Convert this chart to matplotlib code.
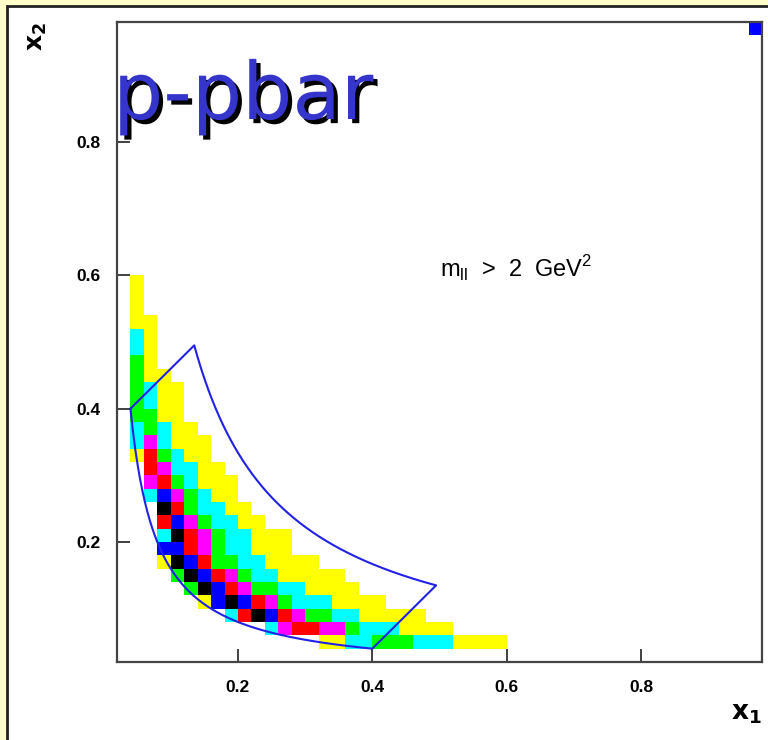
import numpy as np
import matplotlib
matplotlib.use('Agg')
import matplotlib.pyplot as plt
from matplotlib.colors import ListedColormap, BoundaryNorm
from matplotlib.patches import Rectangle
import matplotlib.patheffects as pe

# histogram cells, top row = y bin 0.58-0.60, bottom row = 0.04-0.06
# columns start at x bin 0.04-0.06 ; Y<C<G<M<R<B<K
cell_rows = [
    "Y",
    "Y",
    "Y",
    "YY",
    "CY",
    "CY",
    "GY",
    "GYY",
    "GCYY",
    "GCYY",
    "GGYY",
    "CGCYY",
    "CMCYYY",
    "YRGCYY",
    ".RMCCYY",
    ".MRGCYYY",
    ".CBMGCYY",
    "..KRGCCYY",
    "..RBMGCCYY",
    "..CKRMGCCYYY",
    "..BBRMGCCYYY",
    "..YKBRGGCCYYYY",
    "...GKBRMGCCYYYYY",
    "....GKBRMGGCCYYYY",
    ".....YBKBRMGCCCYYYY",
    ".......CRKBRMGGCCYYYYY",
    "..........CMRRMMGCCCYYYY",
    "..............YYCCGGGCCCYYYY",
]
x_first = 0.04
y_last = 0.04
bin_w = 0.02
codes = "YCGMRBK"
level_colors = ['#ffff00', '#00ffff', '#00ff00', '#ff00ff', '#ff0000', '#0000ff', '#000000']

# lone cell in the top right corner
corner_x = [0.96]
corner_y = [0.96]
corner_code = ['B']

# cut region: tau range and |x1 - x2| limit
tau_min = 0.016
tau_max = 0.0668
xf_max = 0.36

edges = np.round(np.arange(0.02, 0.98 + 1e-9, bin_w), 4)
nb = len(edges) - 1
z = np.zeros((nb, nb))
nrows = len(cell_rows)
for k, row in enumerate(cell_rows):
    yb = y_last + (nrows - 1 - k) * bin_w
    j = int(round((yb - 0.02) / bin_w))
    for n, ch in enumerate(row):
        if ch in codes:
            i = int(round((x_first + n * bin_w - 0.02) / bin_w))
            z[j, i] = codes.index(ch) + 1
for cx, cy, cc in zip(corner_x, corner_y, corner_code):
    z[int(round((cy - 0.02) / bin_w)), int(round((cx - 0.02) / bin_w))] = codes.index(cc) + 1
z = np.ma.masked_equal(z, 0)

fig = plt.figure(figsize=(7.68, 7.40), dpi=100, facecolor='#ffffcc')
fig.patches.append(Rectangle((7 / 768, -0.1), 1.2, 1 - 6 / 740 + 0.1, transform=fig.transFigure,
                             facecolor='white', edgecolor='#222222', lw=2, zorder=-1))

ax = fig.add_axes([117 / 768, 1 - 662 / 740, (762 - 117) / 768, (662 - 22) / 740])
cmap = ListedColormap(level_colors)
norm = BoundaryNorm(np.arange(0.5, 8.5, 1), cmap.N)
ax.pcolormesh(edges, edges, z, cmap=cmap, norm=norm, shading='flat')

# boundary of the cut region
x_lo = (xf_max + np.sqrt(xf_max ** 2 + 4 * tau_min)) / 2
x_hi = (xf_max + np.sqrt(xf_max ** 2 + 4 * tau_max)) / 2
a = np.linspace(tau_min / x_lo, x_lo, 200)
b = np.linspace(x_hi, tau_max / x_hi, 200)
px = np.concatenate([a, b, [tau_min / x_lo]])
py = np.concatenate([tau_min / a, tau_max / b, [x_lo]])
ax.plot(px, py, color='#2222e6', lw=1.5)

ax.set_xlim(0.02, 0.98)
ax.set_ylim(0.02, 0.98)
ticks = [0.2, 0.4, 0.6, 0.8]
tick_labels = ['0.2', '0.4', '0.6', '0.8']
ax.set_xticks(ticks)
ax.set_yticks(ticks)
ax.set_xticklabels(tick_labels, fontsize=12.5, fontweight='bold', family='Liberation Sans')
ax.set_yticklabels(tick_labels, fontsize=12.5, fontweight='bold', family='Liberation Sans')
ax.tick_params(direction='in', length=9.5, width=1.3, color='#333333')
ax.tick_params(axis='x', pad=13)
ax.tick_params(axis='y', pad=12)
for s in ax.spines.values():
    s.set_color('#444444')
    s.set_linewidth(1.6)

fig.text(746 / 768, 1 - 713 / 740, r'$\mathbf{x}_\mathbf{1}$', fontsize=19, ha='center', va='center')
fig.text(37 / 768, 1 - 37 / 740, r'$\mathbf{x}_\mathbf{2}$', fontsize=18, ha='center', va='center', rotation=90)

fig.text(113 / 768, 1 - 119 / 740, 'p-pbar', fontsize=57, color='#3535cc', ha='left', va='baseline',
         path_effects=[pe.withSimplePatchShadow(offset=(3, -3), shadow_rgbFace='black', alpha=1)])

ax.text(0.50, 0.61, r'm$_{\mathregular{ll}}$  >  2  GeV$^{\mathregular{2}}$', fontsize=17,
        family='Liberation Sans', ha='left', va='center')

fig.savefig('out.png', dpi=100, facecolor=fig.get_facecolor())
